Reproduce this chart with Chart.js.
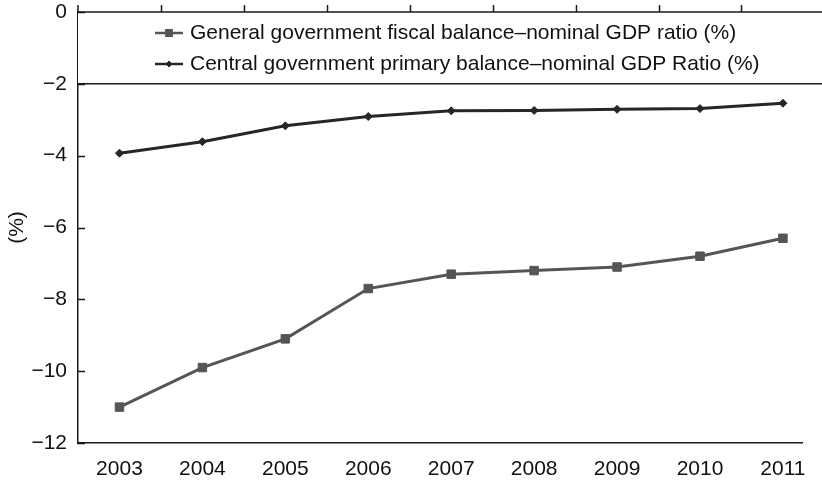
<!DOCTYPE html>
<html>
<head>
<meta charset="utf-8">
<style>
  html, body { margin: 0; padding: 0; background: #fff; }
  #wrap { width: 822px; height: 483px; }
</style>
<script src="https://cdn.jsdelivr.net/npm/chart.js@4/dist/chart.umd.min.js"></script>
</head>
<body>
<div id="wrap"><canvas id="myChart" width="822" height="483"></canvas></div>
<script>
const years = [2003, 2004, 2005, 2006, 2007, 2008, 2009, 2010, 2011];
const fiscalBalance = [-11.0, -9.9, -9.1, -7.7, -7.3, -7.2, -7.1, -6.8, -6.3];
const primaryBalance = [-3.93, -3.61, -3.17, -2.91, -2.75, -2.74, -2.71, -2.69, -2.54];
const yTicks = [0, -2, -4, -6, -8, -10, -12];
const seriesNames = [
    'General government fiscal balance\u2013nominal GDP ratio (%)',
    'Central government primary balance\u2013nominal GDP Ratio (%)'
];

const FONT = 'Liberation Sans, Arial, Helvetica, sans-serif';
const INK = '#1a1a1a';

const toPoints = (vals) => vals.map((v, i) => ({ x: years[i], y: v }));
const minus = (v) => v < 0 ? '\u2212' + Math.abs(v) : String(v);

// legend box, inward tick marks on the left and tick marks along the top
const frame = {
    id: 'frame',
    beforeDatasetsDraw(chart) {
        const { ctx, chartArea: ca, scales: { x, y } } = chart;
        ctx.save();
        ctx.strokeStyle = INK;
        ctx.lineWidth = 1.5;

        const boxBottom = y.getPixelForValue(-2);
        ctx.fillStyle = '#fff';
        ctx.fillRect(ca.left, ca.top, chart.width - ca.left + 5, boxBottom - ca.top);
        ctx.beginPath();
        ctx.moveTo(ca.left, ca.top);
        ctx.lineTo(chart.width + 5, ca.top);
        ctx.moveTo(ca.left, boxBottom);
        ctx.lineTo(chart.width + 5, boxBottom);
        ctx.stroke();

        ctx.beginPath();
        yTicks.forEach(v => {
            const py = Math.round(y.getPixelForValue(v)) + 0.5;
            ctx.moveTo(ca.left - 1, py);
            ctx.lineTo(ca.left + 7, py);
        });
        years.slice(0, -1).forEach(yr => {
            const px = Math.round(x.getPixelForValue(yr + 0.5)) + 0.5;
            ctx.moveTo(px, ca.top);
            ctx.lineTo(px, ca.top - 7);
        });
        ctx.moveTo(ca.left, ca.top);
        ctx.lineTo(ca.left, ca.top - 7);
        ctx.stroke();

        // legend rows
        ctx.font = '21px ' + FONT;
        ctx.textBaseline = 'middle';
        ctx.textAlign = 'left';
        chart.data.datasets.forEach((ds, i) => {
            const ly = ca.top + 21 + i * 31;
            ctx.strokeStyle = ds.borderColor;
            ctx.lineWidth = 2.5;
            ctx.beginPath();
            ctx.moveTo(155, ly);
            ctx.lineTo(183, ly);
            ctx.stroke();
            ctx.fillStyle = ds.pointBackgroundColor;
            ctx.lineWidth = 1;
            Chart.helpers.drawPoint(ctx, {
                pointStyle: ds.pointStyle,
                radius: ds.pointRadius - 1,
                rotation: 0,
                borderWidth: 1
            }, 169, ly);
            ctx.fillStyle = '#111';
            ctx.fillText(ds.label, 190, ly);
        });
        ctx.restore();
    }
};

const config = {
    type: 'line',
    data: {
        datasets: [
            {
                label: seriesNames[0],
                data: toPoints(fiscalBalance),
                borderColor: '#555555',
                backgroundColor: '#555555',
                pointBackgroundColor: '#555555',
                pointBorderColor: '#555555',
                borderWidth: 3,
                pointStyle: 'rect',
                pointRadius: 6,
                pointBorderWidth: 1,
                tension: 0
            },
            {
                label: seriesNames[1],
                data: toPoints(primaryBalance),
                borderColor: '#262626',
                backgroundColor: '#262626',
                pointBackgroundColor: '#262626',
                pointBorderColor: '#262626',
                borderWidth: 3,
                pointStyle: 'rectRot',
                pointRadius: 4,
                pointBorderWidth: 1,
                tension: 0
            }
        ]
    },
    options: {
        responsive: false,
        animation: false,
        layout: { padding: { top: 12, right: 20, left: 0, bottom: 0 } },
        plugins: {
            legend: { display: false },
            tooltip: { enabled: false }
        },
        scales: {
            x: {
                type: 'linear',
                min: 2002.5,
                max: 2011.23,
                afterBuildTicks: (scale) => { scale.ticks = years.map(v => ({ value: v })); },
                afterFit: (scale) => {
                    scale.height = 40;
                    scale.paddingLeft = 0;
                    scale.paddingRight = 0;
                },
                grid: { display: false, drawTicks: false },
                border: { display: true, color: INK, width: 1.5 },
                ticks: {
                    autoSkip: false,
                    maxRotation: 0,
                    padding: 14,
                    color: '#111',
                    font: { family: FONT, size: 21 },
                    callback: (v) => String(v)
                }
            },
            y: {
                min: -12,
                max: 0,
                afterBuildTicks: (scale) => { scale.ticks = yTicks.map(v => ({ value: v })); },
                afterFit: (scale) => {
                    scale.width = 78;
                    scale.paddingTop = 0;
                    scale.paddingBottom = 0;
                },
                grid: { display: false, drawTicks: false },
                border: { display: true, color: INK, width: 1.5 },
                title: {
                    display: true,
                    text: '(%)',
                    color: '#111',
                    padding: { top: 5 },
                    font: { family: FONT, size: 21 }
                },
                ticks: {
                    padding: 11,
                    color: '#111',
                    font: { family: FONT, size: 21 },
                    callback: (v) => minus(v)
                }
            }
        }
    },
    plugins: [frame]
};

new Chart(document.getElementById('myChart'), config);
</script>
</body>
</html>
